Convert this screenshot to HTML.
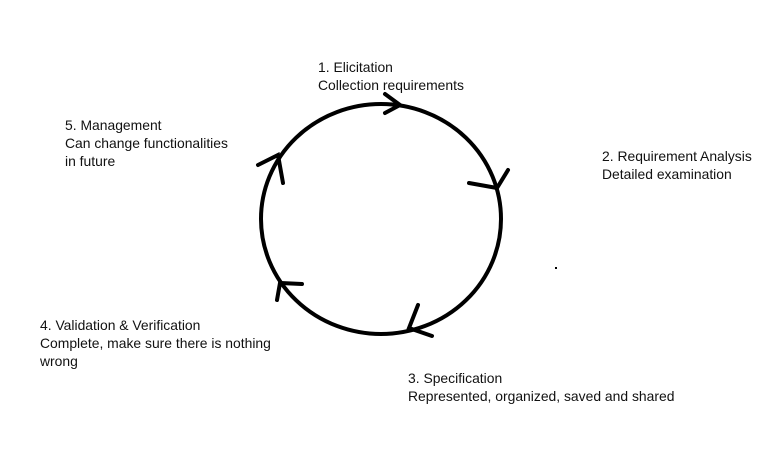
<!DOCTYPE html>
<html><head><style>
body{margin:0;width:771px;height:450px;background:#fff;position:relative;overflow:hidden;font-family:"Liberation Sans",sans-serif;font-size:13.9px;color:#111;}
.t{position:absolute;line-height:18px;white-space:nowrap;}
</style></head><body>
<svg width="771" height="450" style="position:absolute;left:0;top:0">
<ellipse cx="381" cy="219" rx="120" ry="115" fill="none" stroke="#000" stroke-width="4"/>
<g stroke="#000" stroke-width="4" fill="none" stroke-linecap="round">
<polyline points="385,94 400,105 385,113"/>
<polyline points="508,170 497,188 469,183"/>
<polyline points="418,305 409,328 432,336"/>
<polyline points="302,284 280,283 277,300"/>
<polyline points="258,165 278,155 283,183"/>
</g>
<rect x="555" y="267" width="2" height="2" fill="#000"/>
</svg>
<div class="t" style="left:318px;top:58px">1. Elicitation<br>Collection requirements</div>
<div class="t" style="left:602px;top:147px">2. Requirement Analysis<br>Detailed examination</div>
<div class="t" style="left:408px;top:369px">3. Specification<br>Represented, organized, saved and shared</div>
<div class="t" style="left:40px;top:316px">4. Validation &amp; Verification<br>Complete, make sure there is nothing<br>wrong</div>
<div class="t" style="left:65px;top:116px">5. Management<br>Can change functionalities<br>in future</div>
</body></html>
